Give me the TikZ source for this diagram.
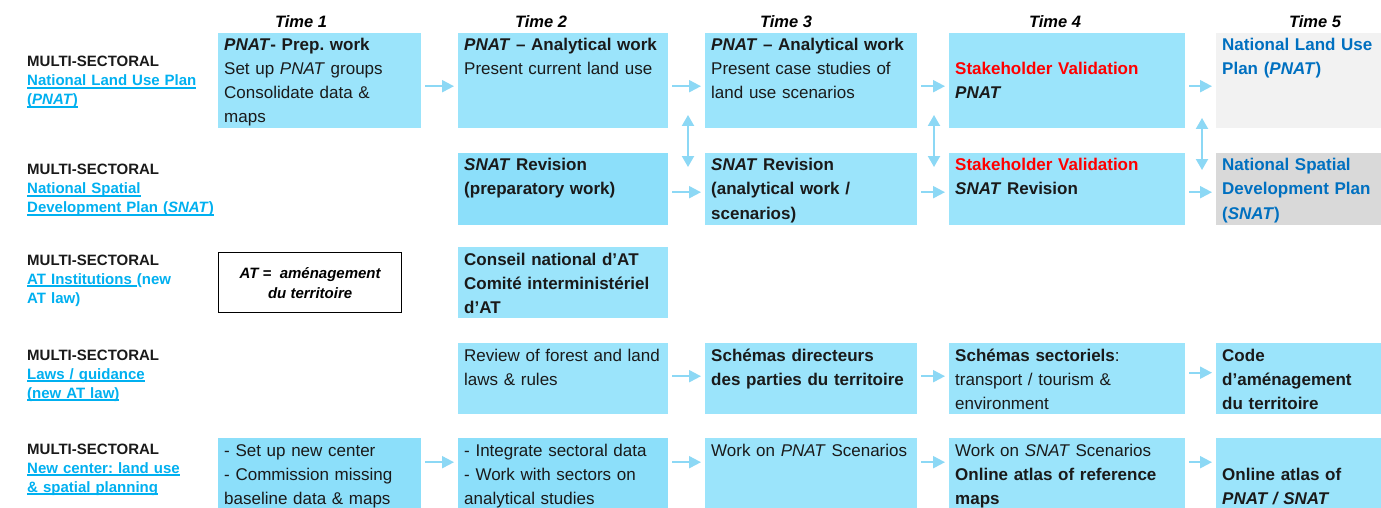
\documentclass[tikz,border=0pt]{standalone}
\usepackage{fontspec}
\setmainfont{Liberation Sans}
\usetikzlibrary{arrows.meta,calc}

\definecolor{boxc}{RGB}{155,228,251}
\definecolor{boxd}{RGB}{140,223,250}
\definecolor{greyl}{RGB}{242,242,242}
\definecolor{greyd}{RGB}{217,217,217}
\definecolor{linkc}{RGB}{0,176,240}
\definecolor{planc}{RGB}{0,112,192}
\definecolor{flowc}{RGB}{140,216,245}
\definecolor{inkc}{RGB}{26,26,26}
\definecolor{alertc}{RGB}{255,0,0}

% underlined link text: rule drawn under the word box in the current colour
\newsavebox\linkbox
\newcommand\linkul[1]{\sbox\linkbox{#1}\rlap{\rule[-2.6pt]{\wd\linkbox}{1.3pt}}\usebox\linkbox}
\hyphenpenalty=10000
\frenchspacing

\tikzset{
  stage/.style={inner sep=0pt, anchor=north west, draw=none},
  stagetext/.style={inner sep=0pt, anchor=base west, text width=#1, align=left,
    font=\fontsize{17}{24}\selectfont, text=inkc},
  boldtext/.style={font=\fontsize{17}{24}\selectfont\bfseries},
  rowlabel/.style={inner sep=0pt, anchor=base west, text width=200pt, align=left,
    font=\bfseries\fontsize{15}{19}\selectfont, text=inkc},
  timelabel/.style={inner sep=0pt, anchor=base, font=\bfseries\itshape\fontsize{16.5}{20}\selectfont},
  flow/.style={draw=flowc, line width=2pt, -{Triangle[length=12pt,width=12pt]},
    shorten <=4pt, shorten >=4pt},
  flowboth/.style={draw=flowc, line width=2pt,
    {Triangle[length=11pt,width=12pt]}-{Triangle[length=11pt,width=12pt]}},
  defbox/.style={draw=black, line width=1.3pt, fill=white, inner sep=0pt, anchor=north west,
    align=center, font=\bfseries\itshape\fontsize{15}{20}\selectfont}
}

% \stagebox[text options]{name}{x}{y}{width}{height}{fill}{text}
\newcommand\stagebox[8][]{%
  \node[stage, fill=#7, minimum width=#5pt, minimum height=#6pt] (#2) at (#3,#4) {};
  \node[stagetext=#5pt, #1] (#2-txt) at ([xshift=6pt,yshift=-18pt]#2.north west) {#8};
}

\begin{document}
\begin{tikzpicture}[x=1pt,y=-1pt]
\useasboundingbox (0,0) rectangle (1381,508);
\fill[white] (0,0) rectangle (1381,508);

% time headings
\node[timelabel] (t1) at (301,28) {Time 1};
\node[timelabel] (t2) at (541,28) {Time 2};
\node[timelabel] (t3) at (786,28) {Time 3};
\node[timelabel] (t4) at (1055,28) {Time 4};
\node[timelabel] (t5) at (1315,28) {Time 5};

% row headings
\node[rowlabel] (lab1) at (27,67) {MULTI-SECTORAL\\
  \textcolor{linkc}{\linkul{National Land Use Plan}}\\
  \textcolor{linkc}{\linkul{(\textit{PNAT})}}};
\node[rowlabel] (lab2) at (27,175) {MULTI-SECTORAL\\
  \textcolor{linkc}{\linkul{National Spatial}}\\
  \textcolor{linkc}{\linkul{Development Plan (\textit{SNAT})}}};
\node[rowlabel] (lab3) at (27,265) {MULTI-SECTORAL\\
  \textcolor{linkc}{\linkul{AT Institutions }(new}\\
  \textcolor{linkc}{AT law)}};
\node[rowlabel] (lab4) at (27,360) {MULTI-SECTORAL\\
  \textcolor{linkc}{\linkul{Laws / guidance}}\\
  \textcolor{linkc}{\linkul{(new AT law)}}};
\node[rowlabel] (lab5) at (27,454) {MULTI-SECTORAL\\
  \textcolor{linkc}{\linkul{New center: land use}}\\
  \textcolor{linkc}{\linkul{\& spatial planning}}};

% definition box
\node[defbox, minimum width=183pt, minimum height=60pt] (atdef) at (218,252)
  {AT =~ aménagement\\du territoire};

% PNAT row
\stagebox{p1}{218}{33}{203}{95}{boxc}{\textbf{\textit{PNAT}- Prep. work}\\Set up \textit{PNAT} groups\\Consolidate data \&\\maps}
\stagebox{p2}{458}{33}{210}{95}{boxc}{\textbf{\textit{PNAT} -- Analytical work}\\Present current land use}
\stagebox{p3}{705}{33}{212}{95}{boxc}{\textbf{\textit{PNAT} -- Analytical work}\\Present case studies of\\land use scenarios}
\stagebox{p4}{949}{33}{236}{95}{boxc}{\mbox{}\\\textcolor{alertc}{\textbf{Stakeholder Validation}}\\\textbf{\textit{PNAT}}}
\stagebox[boldtext, text=planc]{p5}{1216}{33}{165}{95}{greyl}{National Land Use\\Plan (\textit{PNAT})}

% SNAT row
\stagebox[boldtext]{s2}{458}{153}{210}{72}{boxd}{\textit{SNAT} Revision\\(preparatory work)}
\stagebox[boldtext]{s3}{705}{153}{212}{72}{boxc}{\textit{SNAT} Revision\\(analytical work /\\scenarios)}
\stagebox[boldtext]{s4}{949}{153}{236}{72}{boxc}{\textcolor{alertc}{Stakeholder Validation}\\\textit{SNAT} Revision}
\stagebox[boldtext, text=planc]{s5}{1216}{153}{165}{72}{greyd}{National Spatial\\Development Plan\\(\textit{SNAT})}

% institutions row
\stagebox[boldtext]{i2}{458}{247}{210}{71}{boxc}{Conseil national d’AT\\Comité interministériel\\d’AT}

% laws row
\stagebox{l2}{458}{343}{210}{71}{boxc}{Review of forest and land\\laws \& rules}
\stagebox[boldtext]{l3}{705}{343}{212}{71}{boxc}{Schémas directeurs\\des parties du territoire}
\stagebox{l4}{949}{343}{236}{71}{boxc}{\textbf{Schémas sectoriels}:\\transport / tourism \&\\environment}
\stagebox[boldtext]{l5}{1216}{343}{165}{71}{boxc}{Code\\d’aménagement\\du territoire}

% new center row
\stagebox{c1}{218}{438}{203}{70}{boxd}{- Set up new center\\- Commission missing\\baseline data \& maps}
\stagebox{c2}{458}{438}{210}{70}{boxd}{- Integrate sectoral data\\- Work with sectors on\\analytical studies}
\stagebox{c3}{705}{438}{212}{70}{boxc}{Work on \textit{PNAT} Scenarios}
\stagebox{c4}{949}{438}{236}{70}{boxc}{Work on \textit{SNAT} Scenarios\\\textbf{Online atlas of reference}\\\textbf{maps}}
\stagebox[boldtext]{c5}{1216}{438}{165}{70}{boxc}{\mbox{}\\Online atlas of\\\textit{PNAT / SNAT}}

% horizontal flows
\draw[flow] ([yshift=-5.5pt]p1.east) -- ([yshift=-5.5pt]p2.west);
\draw[flow] ([yshift=-5.5pt]p2.east) -- ([yshift=-5.5pt]p3.west);
\draw[flow] ([yshift=-5.5pt]p3.east) -- ([yshift=-5.5pt]p4.west);
\draw[flow] ([yshift=-5.5pt]p4.east) -- ([yshift=-5.5pt]p5.west);

\draw[flow] ([yshift=-3pt]s2.east) -- ([yshift=-3pt]s3.west);
\draw[flow] ([yshift=-3pt]s3.east) -- ([yshift=-3pt]s4.west);
\draw[flow] ([yshift=-3pt]s4.east) -- ([yshift=-3pt]s5.west);

\draw[flow] ([yshift=2.5pt]l2.east) -- ([yshift=2.5pt]l3.west);
\draw[flow] ([yshift=2.5pt]l3.east) -- ([yshift=2.5pt]l4.west);
\draw[flow] ([yshift=6pt]l4.east) -- ([yshift=6pt]l5.west);

\draw[flow] ([yshift=11pt]c1.east) -- ([yshift=11pt]c2.west);
\draw[flow] ([yshift=11pt]c2.east) -- ([yshift=11pt]c3.west);
\draw[flow] ([yshift=11pt]c3.east) -- ([yshift=11pt]c4.west);
\draw[flow] ([yshift=11pt]c4.east) -- ([yshift=11pt]c5.west);

% links between PNAT and SNAT rows
\coordinate (u1a) at (688,115);
\coordinate (u1b) at (688,167);
\coordinate (u2a) at (934,115);
\coordinate (u2b) at (934,167);
\coordinate (u3a) at (1202,118);
\coordinate (u3b) at (1202,170);
\draw[flowboth] (u1a) -- (u1b);
\draw[flowboth] (u2a) -- (u2b);
\draw[flowboth] (u3a) -- (u3b);
\end{tikzpicture}
\end{document}
